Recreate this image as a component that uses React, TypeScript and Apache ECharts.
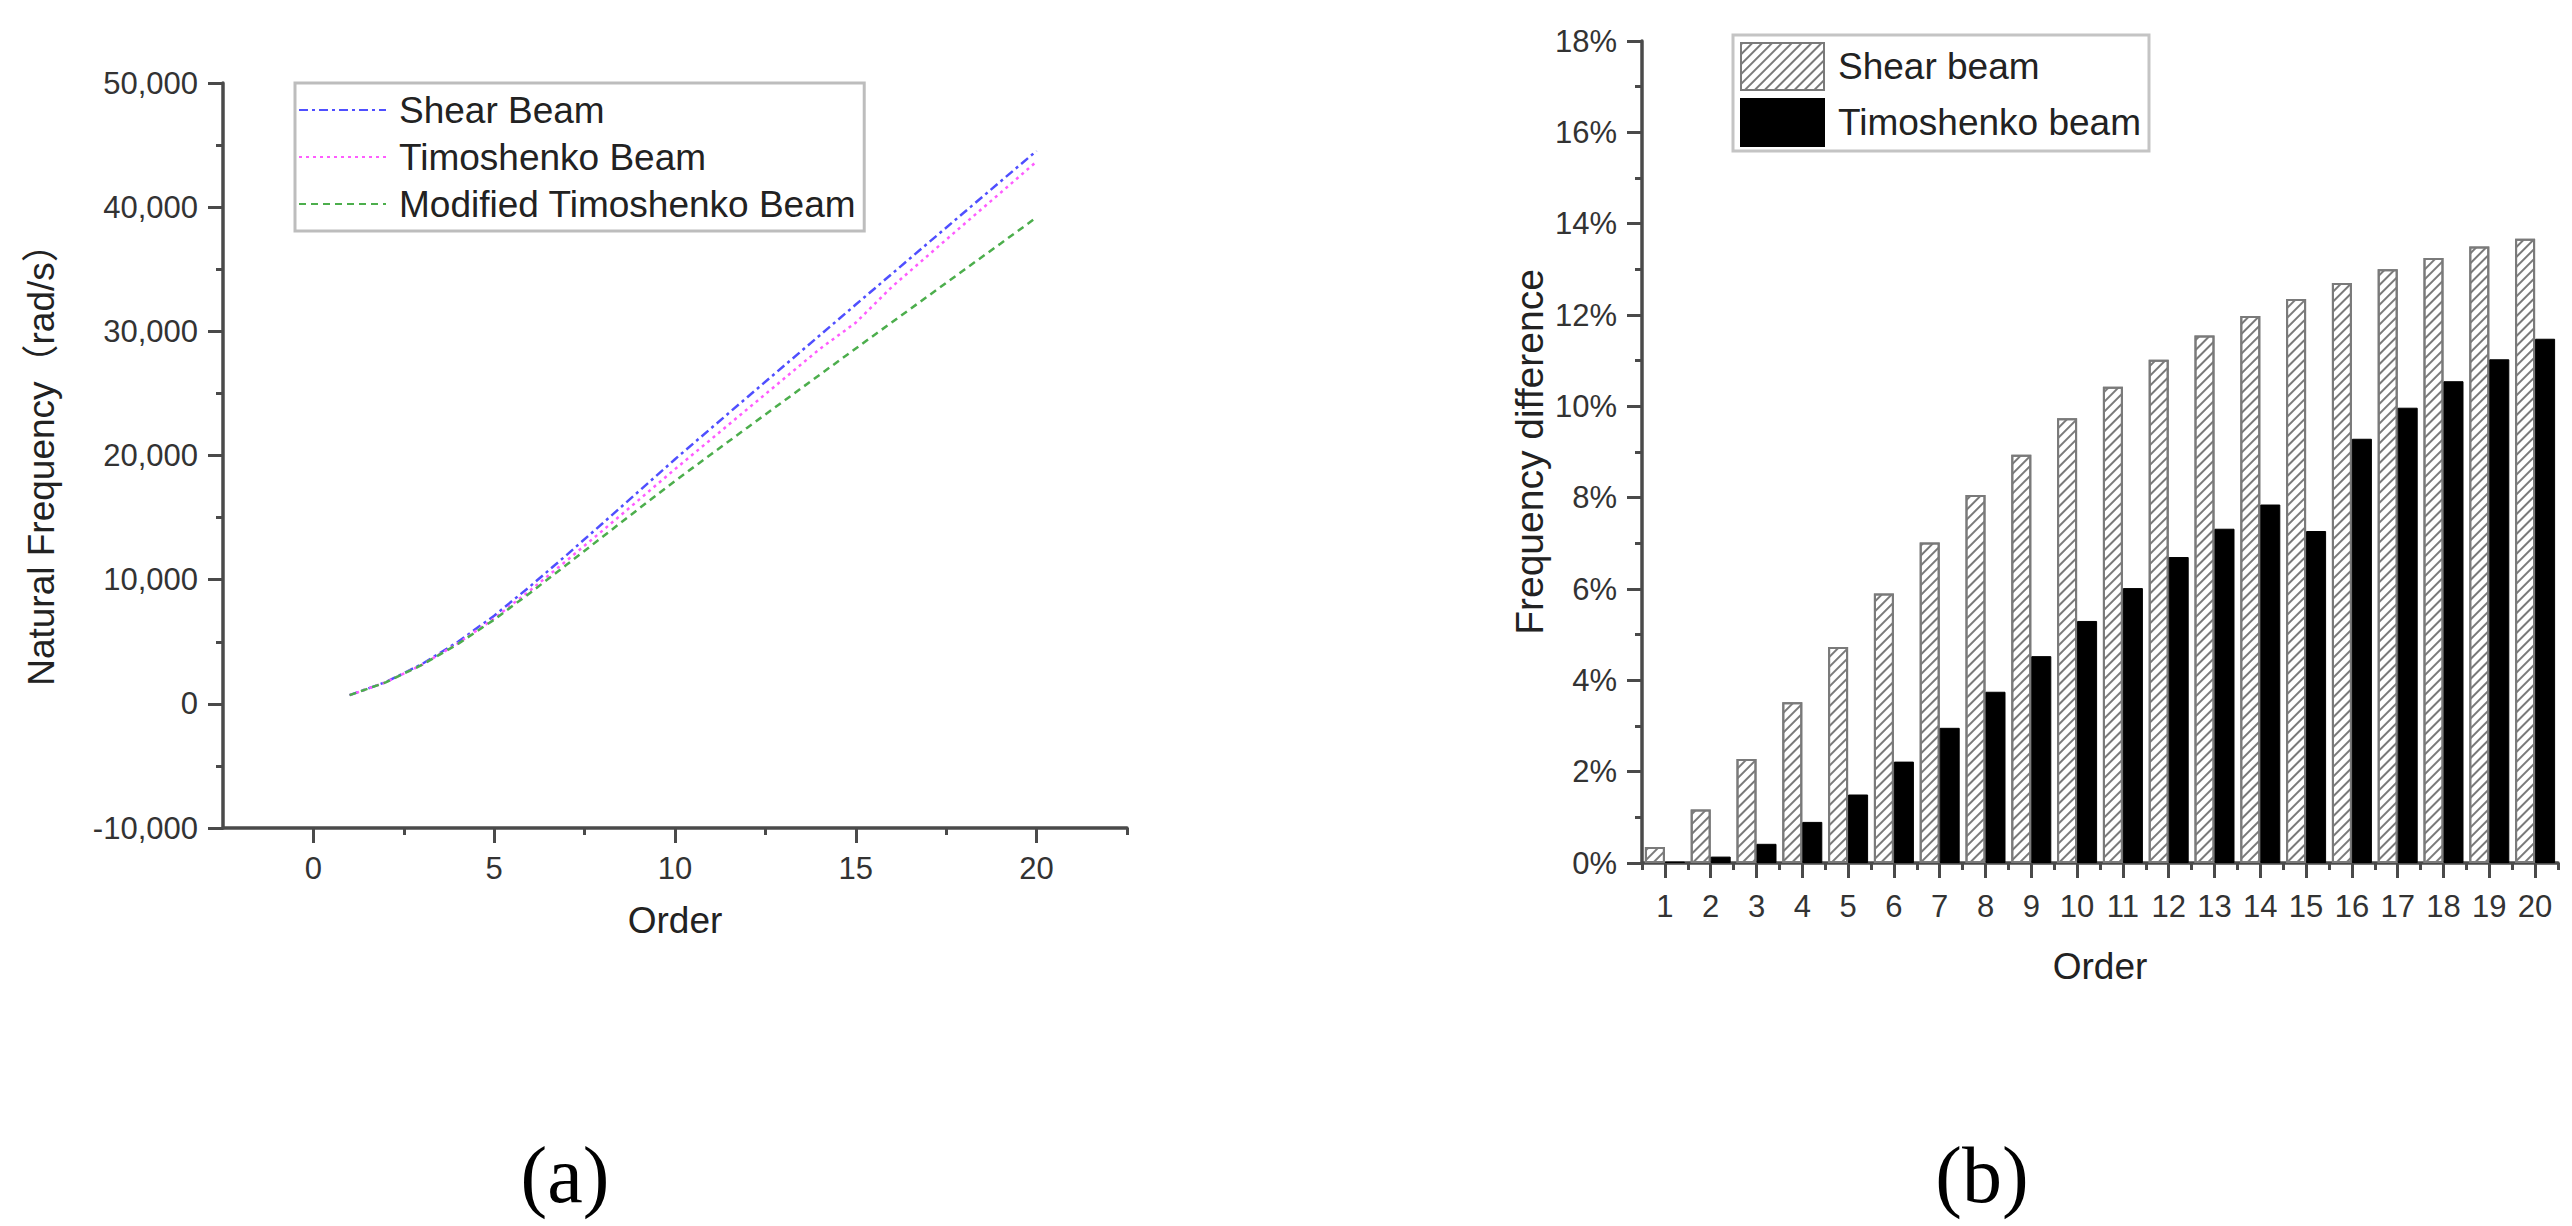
import React, { useEffect, useRef } from "react";
import * as echarts from "echarts";

// ---------- data ----------
const ORDERS = [1, 2, 3, 4, 5, 6, 7, 8, 9, 10, 11, 12, 13, 14, 15, 16, 17, 18, 19, 20];
const ORDER_LABELS = ["1", "2", "3", "4", "5", "6", "7", "8", "9", "10", "11", "12", "13", "14", "15", "16", "17", "18", "19", "20"];

// (a) natural frequency, rad/s
const SHEAR_FREQ = [700, 1750, 3200, 5000, 7100, 9480, 11980, 14540, 17120, 19700, 22200, 24695, 27185, 29670, 32155, 34635, 37115, 39590, 42065, 44535];
const TIMO_FREQ = [698, 1732, 3142, 4873, 6881, 9151, 11525, 13960, 16427, 18904, 21313, 23734, 26154, 28576, 30701, 33587, 36120, 38646, 41150, 43677];
const MOD_FREQ = [698, 1730, 3129, 4830, 6779, 8952, 11194, 13455, 15715, 17952, 20103, 22244, 24370, 26496, 28620, 30732, 32845, 34958, 37062, 39179];

// (b) frequency difference, %
const SHEAR_DIFF = [0.35, 1.17, 2.28, 3.52, 4.73, 5.9, 7.02, 8.06, 8.94, 9.74, 10.43, 11.02, 11.55, 11.98, 12.35, 12.7, 13.0, 13.25, 13.5, 13.67];
const TIMO_DIFF = [0.03, 0.14, 0.42, 0.9, 1.5, 2.22, 2.96, 3.75, 4.53, 5.3, 6.02, 6.7, 7.32, 7.85, 7.27, 9.29, 9.97, 10.55, 11.03, 11.48];

const X_MAJOR = [0, 5, 10, 15, 20];
const X_MINOR = [2.5, 7.5, 12.5, 17.5, 22.5];

const FONT = "'Liberation Sans', Arial, 'Noto Sans CJK SC', sans-serif";
const AXIS_COLOR = "#4a4a4a";
const LABEL_COLOR = "#333";

export default function App() {
  const ref = useRef<HTMLDivElement>(null);

  useEffect(() => {
    document.body.style.margin = "0";
    const chart = echarts.init(ref.current!, null, { renderer: "svg" });

    const axisLine = { show: true, onZero: false, lineStyle: { color: AXIS_COLOR, width: 3.5 } };
    const majorTick = { show: true, length: 15, lineStyle: { color: AXIS_COLOR, width: 3 } };
    const minorTickStyle = { show: true, length: 7, lineStyle: { color: AXIS_COLOR, width: 3 } };
    const tickLabel = { color: LABEL_COLOR, fontSize: 31, fontFamily: FONT, margin: 25 };
    const nameStyle = { color: "#222", fontSize: 37, fontFamily: FONT };

    const option: any = {
      animation: false,
      backgroundColor: "#fff",
      textStyle: { fontFamily: FONT },
      grid: [
        { left: 223, top: 83, width: 904, height: 745, containLabel: false },
        { left: 1642, top: 41, width: 916, height: 822, containLabel: false },
      ],
      legend: [
        {
          orient: "vertical",
          left: 295,
          top: 83,
          data: ["Shear Beam", "Timoshenko Beam", "Modified Timoshenko Beam"],
          itemWidth: 87,
          itemHeight: 14,
          itemGap: 7,
          padding: [7, 8, 7, 3],
          borderColor: "#bdbdbd",
          borderWidth: 3,
          itemStyle: { opacity: 0 },
          textStyle: { fontSize: 37, lineHeight: 40, color: "#222", fontFamily: FONT, padding: [0, 0, 0, 8] },
        },
        {
          orient: "vertical",
          left: 1733,
          top: 35,
          data: ["Shear beam", "Timoshenko beam"],
          icon: "rect",
          itemWidth: 83,
          itemHeight: 47,
          itemGap: 7,
          padding: [7, 8, 4, 7],
          borderColor: "#c4c4c4",
          borderWidth: 3,
          textStyle: { fontSize: 37, color: "#222", fontFamily: FONT, padding: [0, 0, 0, 9] },
        },
      ],
      xAxis: [
        {
          type: "value",
          gridIndex: 0,
          position: "bottom",
          min: -2.5,
          max: 22.5,
          name: "Order",
          nameLocation: "middle",
          nameGap: 74,
          nameTextStyle: nameStyle,
          axisLine,
          axisTick: { ...majorTick, customValues: X_MAJOR },
          axisLabel: { ...tickLabel, customValues: X_MAJOR },
          splitLine: { show: false },
        },
        {
          type: "value",
          gridIndex: 0,
          position: "bottom",
          min: -2.5,
          max: 22.5,
          axisLine: { show: false, onZero: false },
          axisTick: { ...minorTickStyle, customValues: X_MINOR },
          axisLabel: { show: false },
          splitLine: { show: false },
        },
        {
          type: "category",
          gridIndex: 1,
          position: "bottom",
          data: ORDER_LABELS,
          boundaryGap: true,
          name: "Order",
          nameLocation: "middle",
          nameGap: 85,
          nameTextStyle: nameStyle,
          axisLine,
          axisTick: { ...majorTick, alignWithLabel: true },
          axisLabel: { ...tickLabel, margin: 28, interval: 0 },
          splitLine: { show: false },
        },
        {
          type: "value",
          gridIndex: 1,
          position: "bottom",
          min: 0,
          max: 20,
          interval: 1,
          axisLine: { show: false, onZero: false },
          axisTick: minorTickStyle,
          axisLabel: { show: false },
          splitLine: { show: false },
        },
      ],
      yAxis: [
        {
          type: "value",
          gridIndex: 0,
          position: "left",
          min: -10000,
          max: 50000,
          interval: 10000,
          name: "Natural Frequency（rad/s）",
          nameLocation: "middle",
          nameGap: 163,
          nameTextStyle: nameStyle,
          axisLine,
          axisTick: majorTick,
          minorTick: { ...minorTickStyle, splitNumber: 2 },
          axisLabel: {
            ...tickLabel,
            formatter: (v: number) => v.toLocaleString("en-US"),
          },
          splitLine: { show: false },
          minorSplitLine: { show: false },
        },
        {
          type: "value",
          gridIndex: 1,
          position: "left",
          min: 0,
          max: 18,
          interval: 2,
          name: "Frequency difference",
          nameLocation: "middle",
          nameGap: 93,
          nameTextStyle: { ...nameStyle, fontSize: 39 },
          axisLine,
          axisTick: majorTick,
          minorTick: { ...minorTickStyle, splitNumber: 2 },
          axisLabel: { ...tickLabel, formatter: "{value}%" },
          splitLine: { show: false },
          minorSplitLine: { show: false },
        },
      ],
      series: [
        {
          name: "Shear Beam",
          type: "line",
          xAxisIndex: 0,
          yAxisIndex: 0,
          symbol: "none",
          data: ORDERS.map((o, i) => [o, SHEAR_FREQ[i]]),
          lineStyle: { color: "#4f4fff", width: 2.5, type: [9, 4, 3, 4] },
          itemStyle: { color: "#4f4fff" },
        },
        {
          name: "Timoshenko Beam",
          type: "line",
          xAxisIndex: 0,
          yAxisIndex: 0,
          symbol: "none",
          data: ORDERS.map((o, i) => [o, TIMO_FREQ[i]]),
          lineStyle: { color: "#ff5cff", width: 2.5, type: [3, 4] },
          itemStyle: { color: "#ff5cff" },
        },
        {
          name: "Modified Timoshenko Beam",
          type: "line",
          xAxisIndex: 0,
          yAxisIndex: 0,
          symbol: "none",
          data: ORDERS.map((o, i) => [o, MOD_FREQ[i]]),
          lineStyle: { color: "#4cae4c", width: 2.5, type: [7, 5] },
          itemStyle: { color: "#4cae4c" },
        },
        {
          name: "Shear beam",
          type: "bar",
          xAxisIndex: 2,
          yAxisIndex: 1,
          barWidth: 20,
          barGap: "0%",
          data: SHEAR_DIFF,
          itemStyle: {
            color: "#ffffff",
            borderColor: "#7a7a7a",
            borderWidth: 2,
            decal: {
              symbol: "rect",
              symbolSize: 1,
              dashArrayX: [1, 0],
              dashArrayY: [2, 5],
              rotation: -Math.PI / 4,
              color: "#7a7a7a",
              backgroundColor: "#ffffff",
            },
          },
        },
        {
          name: "Timoshenko beam",
          type: "bar",
          xAxisIndex: 2,
          yAxisIndex: 1,
          barWidth: 20,
          barGap: "0%",
          data: TIMO_DIFF,
          itemStyle: { color: "#000000", borderColor: "#000000", borderWidth: 1 },
        },
      ],
      graphic: [
        {
          type: "text",
          x: 565,
          y: 1175,
          style: {
            text: "(a)",
            fontFamily: "'Liberation Serif', 'Times New Roman', serif",
            fontSize: 80,
            fill: "#000",
            align: "center",
            verticalAlign: "middle",
          },
        },
        {
          type: "text",
          x: 1982,
          y: 1175,
          style: {
            text: "(b)",
            fontFamily: "'Liberation Serif', 'Times New Roman', serif",
            fontSize: 80,
            fill: "#000",
            align: "center",
            verticalAlign: "middle",
          },
        },
      ],
    };

    chart.setOption(option);
    return () => chart.dispose();
  }, []);

  return (
    <div
      ref={ref}
      style={{ position: "absolute", left: 0, top: 0, width: 2572, height: 1226, background: "#fff" }}
    />
  );
}
